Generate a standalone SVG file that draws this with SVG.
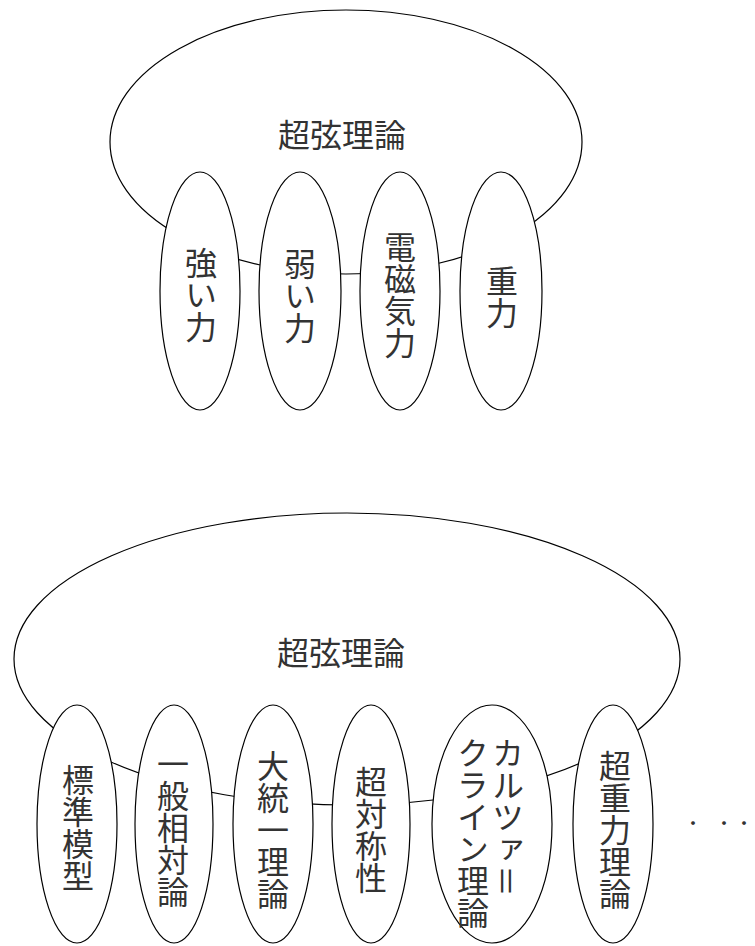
<svg xmlns="http://www.w3.org/2000/svg" width="755" height="946" viewBox="0 0 755 946">
<style>
.sh{fill:#fff;stroke:#000;stroke-width:1.2}
.t{font-family:"Noto Sans CJK JP","Noto Sans CJK SC",sans-serif;font-size:32px;fill:#333}
.h{text-anchor:middle;dominant-baseline:central}
.v{writing-mode:vertical-rl;text-anchor:middle}
.vs{writing-mode:vertical-rl;text-anchor:start}
</style>
<rect width="755" height="946" fill="#fff"/>
<g id="connectors"/>
<g id="top-group">
<g id="top-super"><ellipse class="sh" cx="346" cy="142" rx="236" ry="132"/><text class="t h" x="342" y="133">超弦理論</text></g>
<g id="n-strong"><ellipse class="sh" cx="200" cy="291" rx="40" ry="119"/><text class="t v" x="201" y="295">強い力</text></g>
<g id="n-weak"><ellipse class="sh" cx="300" cy="291" rx="41" ry="119"/><text class="t v" x="300" y="296">弱い力</text></g>
<g id="n-em"><ellipse class="sh" cx="400" cy="291" rx="40" ry="119"/><text class="t v" x="400" y="295">電磁気力</text></g>
<g id="n-grav"><ellipse class="sh" cx="501" cy="291" rx="41" ry="119"/><text class="t v" x="502" y="297">重力</text></g>
</g>
<g id="bottom-group">
<g id="bottom-super"><ellipse class="sh" cx="347" cy="659" rx="333" ry="146"/><text class="t h" x="341" y="651">超弦理論</text></g>
<g id="n-sm"><ellipse class="sh" cx="77" cy="824" rx="40" ry="119"/><text class="t v" x="78" y="828">標準模型</text></g>
<g id="n-gr"><ellipse class="sh" cx="174" cy="824" rx="39" ry="119"/><text class="t v" x="173" y="828">一般相対論</text></g>
<g id="n-gut"><ellipse class="sh" cx="273" cy="824" rx="40" ry="119"/><text class="t v" x="273" y="830">大統一理論</text></g>
<g id="n-susy"><ellipse class="sh" cx="371" cy="824" rx="39" ry="119"/><text class="t v" x="371" y="830">超対称性</text></g>
<g id="n-kk"><ellipse class="sh" cx="492" cy="824" rx="60" ry="119"/><text class="t vs" x="508" y="737">カルツァ＝</text><text class="t vs" x="473" y="737">クライン理論</text></g>
<g id="n-sugra"><ellipse class="sh" cx="613" cy="824" rx="40" ry="119"/><text class="t v" x="615" y="830">超重力理論</text></g>
<g id="dots"><text class="t" style="font-size:18px" x="684 715 735" y="829.8">・・・</text></g>
</g>
</svg>
